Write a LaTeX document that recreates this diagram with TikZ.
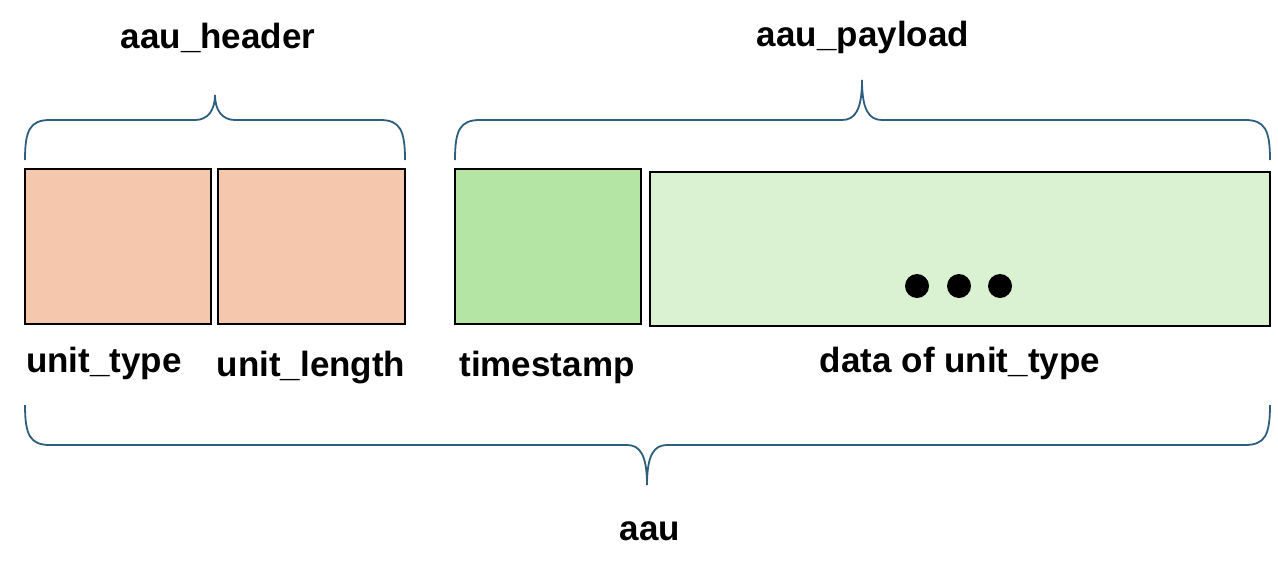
\documentclass[tikz,border=0pt]{standalone}
\usepackage{fontspec}
\setmainfont{Liberation Sans}
\begin{document}
\begin{tikzpicture}[x=1pt,y=-1pt,
  lbl/.style={font=\fontsize{35}{40}\selectfont\bfseries,anchor=base,inner sep=0pt},
  cell/.style={draw=black,line width=1.8pt},
  brc/.style={draw=brcol,line width=1.8pt}]
\definecolor{salmon}{HTML}{F5C7AD}
\definecolor{gdark}{HTML}{B5E5A4}
\definecolor{glight}{HTML}{DAF2D1}
\definecolor{brcol}{HTML}{2E5E7E}
\useasboundingbox (0,0) rectangle (1278,576);
\fill[white] (0,0) rectangle (1278,576);
\draw[cell,fill=salmon] (25,169) rectangle (211,324);
\draw[cell,fill=salmon] (218,169) rectangle (405,324);
\draw[cell,fill=gdark] (455,169) rectangle (641,324);
\draw[cell,fill=glight] (650,172) rectangle (1270,326);
\foreach \x in {917,959,1000} \fill (\x,286) circle (12);
\draw[brc] (25,160) .. controls (25,130) and (30,120) .. (50,120) -- (195,120)
  .. controls (208,120) and (215,110) .. (215,95)
  .. controls (215,110) and (222,120) .. (235,120) -- (380,120)
  .. controls (400,120) and (405,130) .. (405,160);
\draw[brc] (455,160) .. controls (455,130) and (460,120) .. (480,120) -- (842,120)
  .. controls (855,120) and (862,110) .. (862,80)
  .. controls (862,110) and (869,120) .. (882,120) -- (1245,120)
  .. controls (1265,120) and (1270,130) .. (1270,160);
\draw[brc] (25,405) .. controls (25,435) and (30,445) .. (50,445) -- (627,445)
  .. controls (640,445) and (647,455) .. (647,485)
  .. controls (647,455) and (654,445) .. (667,445) -- (1245,445)
  .. controls (1265,445) and (1270,435) .. (1270,405);
\node[lbl] (h) at (218,48) {aau\_header};
\node[lbl] (p) at (863,46) {aau\_payload};
\node[lbl] (a) at (650,540) {aau};
\node[lbl] (t1) at (104,372) {unit\_type};
\node[lbl] (t2) at (311,376) {unit\_length};
\node[lbl] (t3) at (547,376) {timestamp};
\node[lbl] (t4) at (960,372) {data of unit\_type};
\end{tikzpicture}
\end{document}
